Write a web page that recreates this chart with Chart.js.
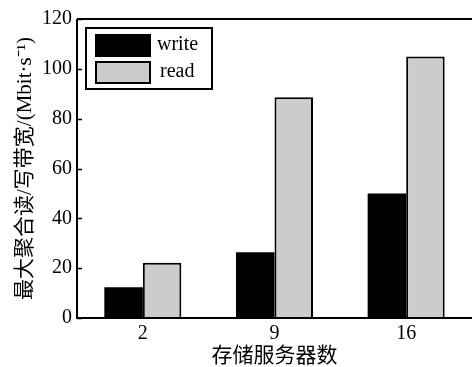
<!DOCTYPE html>
<html>
<head>
<meta charset="utf-8">
<script src="https://cdn.jsdelivr.net/npm/chart.js@4"></script>
<style>
  body { margin: 0; background: #fff; }
  #wrap { width: 472px; height: 367px; }
</style>
</head>
<body>
<div id="wrap"><canvas id="bars" width="472" height="367"></canvas></div>
<script>
// data
var servers = ['2', '9', '16'];
var writeBW = [12.3, 26.4, 50];
var readBW = [22.2, 88.6, 105];
var yTicks = [0, 20, 40, 60, 80, 100, 120];

var serif = '"Liberation Serif", "Noto Sans CJK SC", serif';

// frame, inward y ticks and the boxed legend
var framePlugin = {
    id: 'frame',
    afterDraw: function(chart) {
        var ctx = chart.ctx;
        var a = chart.chartArea;
        var y = chart.scales.y;
        ctx.save();
        ctx.strokeStyle = '#000';
        ctx.lineWidth = 2;
        ctx.beginPath();
        ctx.moveTo(a.left, a.top);
        ctx.lineTo(a.right + 2, a.top);
        ctx.moveTo(a.left, a.top);
        ctx.lineTo(a.left, a.bottom);
        ctx.lineTo(a.right + 2, a.bottom);
        ctx.stroke();

        ctx.lineWidth = 1.5;
        yTicks.forEach(function(t) {
            var py = Math.round(y.getPixelForValue(t)) + 0.5;
            ctx.beginPath();
            ctx.moveTo(a.left, py);
            ctx.lineTo(a.left + 5, py);
            ctx.stroke();
        });

        // legend
        var lx = a.left + 9, ly = a.top + 9;
        ctx.fillStyle = '#fff';
        ctx.fillRect(lx, ly, 126, 61);
        ctx.lineWidth = 2;
        ctx.strokeRect(lx, ly, 126, 61);
        ctx.font = '20px ' + serif;
        ctx.textBaseline = 'middle';
        chart.data.datasets.forEach(function(ds, i) {
            var sy = ly + 7 + i * 27;
            ctx.fillStyle = ds.backgroundColor;
            ctx.fillRect(10 + lx, sy, 54, 21);
            ctx.strokeStyle = '#000';
            ctx.lineWidth = 2;
            ctx.strokeRect(10 + lx, sy, 54, 21);
            ctx.fillStyle = '#000';
            ctx.fillText(ds.label, lx + 71 + (i === 1 ? 3 : 0), sy + 10);
        });
        ctx.restore();
    }
};

var chart = new Chart(document.getElementById('bars'), {
    type: 'bar',
    data: {
        labels: servers,
        datasets: [{
            label: 'write',
            data: writeBW,
            backgroundColor: '#000000',
            borderColor: '#000000',
            borderWidth: 0,
            categoryPercentage: 0.585,
            barPercentage: 1.0
        }, {
            label: 'read',
            data: readBW,
            backgroundColor: '#cccccc',
            borderColor: '#000000',
            borderWidth: 2,
            borderSkipped: 'bottom',
            categoryPercentage: 0.585,
            barPercentage: 1.0
        }]
    },
    options: {
        responsive: false,
        devicePixelRatio: 1,
        animation: false,
        layout: { padding: { top: 19, right: 0, left: 0, bottom: 0 } },
        plugins: {
            legend: { display: false },
            tooltip: { enabled: false }
        },
        scales: {
            x: {
                grid: { display: false, drawTicks: false },
                border: { display: false },
                ticks: {
                    color: '#000',
                    padding: 4,
                    font: { family: serif, size: 20 }
                },
                title: {
                    display: true,
                    text: '存储服务器数',
                    color: '#000',
                    padding: { top: 0, bottom: 0 },
                    font: { family: '"Noto Sans CJK SC", sans-serif', size: 21 }
                },
                afterFit: function(s) { s.height = 49; }
            },
            y: {
                min: 0,
                max: 120,
                grid: { display: false, drawTicks: false },
                border: { display: false },
                afterBuildTicks: function(s) {
                    s.ticks = yTicks.map(function(v) { return { value: v }; });
                },
                ticks: {
                    color: '#000',
                    padding: 5,
                    font: { family: serif, size: 20 }
                },
                title: {
                    display: true,
                    text: '最大聚合读/写带宽/(Mbit·s⁻¹)',
                    color: '#000',
                    padding: { top: 13, bottom: 0 },
                    font: { family: serif, size: 21 }
                },
                afterFit: function(s) { s.width = 77; }
            }
        }
    },
    plugins: [framePlugin]
});
</script>
</body>
</html>
